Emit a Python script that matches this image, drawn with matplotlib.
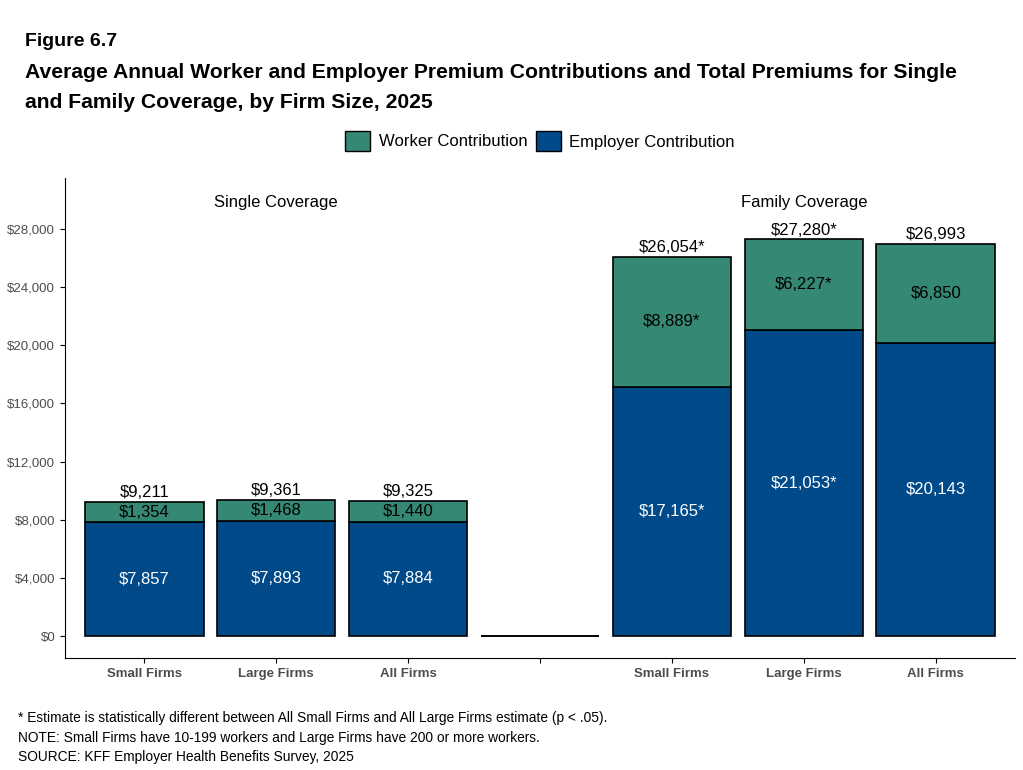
import matplotlib.pyplot as plt

categories = ["Small Firms", "Large Firms", "All Firms", "", "Small Firms", "Large Firms", "All Firms"]
employer = [7857, 7893, 7884, 0, 17165, 21053, 20143]
worker = [1354, 1468, 1440, 0, 8889, 6227, 6850]
totals = [9211, 9361, 9325, None, 26054, 27280, 26993]
emp_labels = ["$7,857", "$7,893", "$7,884", "", "$17,165*", "$21,053*", "$20,143"]
wrk_labels = ["$1,354", "$1,468", "$1,440", "", "$8,889*", "$6,227*", "$6,850"]
tot_labels = ["$9,211", "$9,361", "$9,325", "", "$26,054*", "$27,280*", "$26,993"]
yticks = [0, 4000, 8000, 12000, 16000, 20000, 24000, 28000]

plt.rcParams['font.family'] = ['Arial', 'Liberation Sans', 'DejaVu Sans']
wc, ec = "#358873", "#004a8a"
fig = plt.figure(figsize=(10.23, 7.7), dpi=100)
ax = fig.add_axes([65/1023, 1-658/770, 950/1023, 480/770])
x = list(range(len(categories)))
ax.bar(x, employer, width=0.9, color=ec, edgecolor="black", linewidth=1.2)
ax.bar(x, worker, bottom=employer, width=0.9, color=wc, edgecolor="black", linewidth=1.2)
for i in x:
    if totals[i] is None:
        continue
    ax.text(i, employer[i]/2, emp_labels[i], ha="center", va="center", color="white", fontsize=12)
    ax.text(i, employer[i]+worker[i]/2, wrk_labels[i], ha="center", va="center", color="black", fontsize=12)
    ax.text(i, totals[i]+120, tot_labels[i], ha="center", va="bottom", color="black", fontsize=12)
ax.text(1, 29800, "Single Coverage", ha="center", va="center", fontsize=12)
ax.text(5, 29800, "Family Coverage", ha="center", va="center", fontsize=12)
ax.set_xlim(-0.6, 6.6)
ax.set_ylim(-1500, 31500)
ax.set_yticks(yticks)
ax.set_yticklabels([f"${v:,}" for v in yticks], color="#4d4d4d", fontsize=9.5)
ax.set_xticks(x)
ax.set_xticklabels(categories, color="#4d4d4d", fontsize=9.5, fontweight="bold")
for s in ["top", "right"]:
    ax.spines[s].set_visible(False)

fig.text(25/1023, 1-42/770, "Figure 6.7", fontsize=14, fontweight="bold", va="center")
fig.text(25/1023, 1-73/770, "Average Annual Worker and Employer Premium Contributions and Total Premiums for Single",
         fontsize=15.2, fontweight="bold", va="center")
fig.text(25/1023, 1-103/770, "and Family Coverage, by Firm Size, 2025", fontsize=15.2, fontweight="bold", va="center")
from matplotlib.patches import Patch
fig.legend(handles=[Patch(facecolor=wc, edgecolor="black", label="Worker Contribution"),
                    Patch(facecolor=ec, edgecolor="black", label="Employer Contribution")],
           loc="center", bbox_to_anchor=(540/1023, 1-141/770), ncol=2, frameon=False, fontsize=12,
           handlelength=1.5, handleheight=1.5, columnspacing=0.5, handletextpad=0.5)
fs = 9.9
fig.text(18/1023, 1-718/770, "* Estimate is statistically different between All Small Firms and All Large Firms estimate (p < .05).", fontsize=fs, va="center")
fig.text(18/1023, 1-738/770, "NOTE: Small Firms have 10-199 workers and Large Firms have 200 or more workers.", fontsize=fs, va="center")
fig.text(18/1023, 1-757/770, "SOURCE: KFF Employer Health Benefits Survey, 2025", fontsize=fs, va="center")
fig.savefig("out.png", dpi=100)
